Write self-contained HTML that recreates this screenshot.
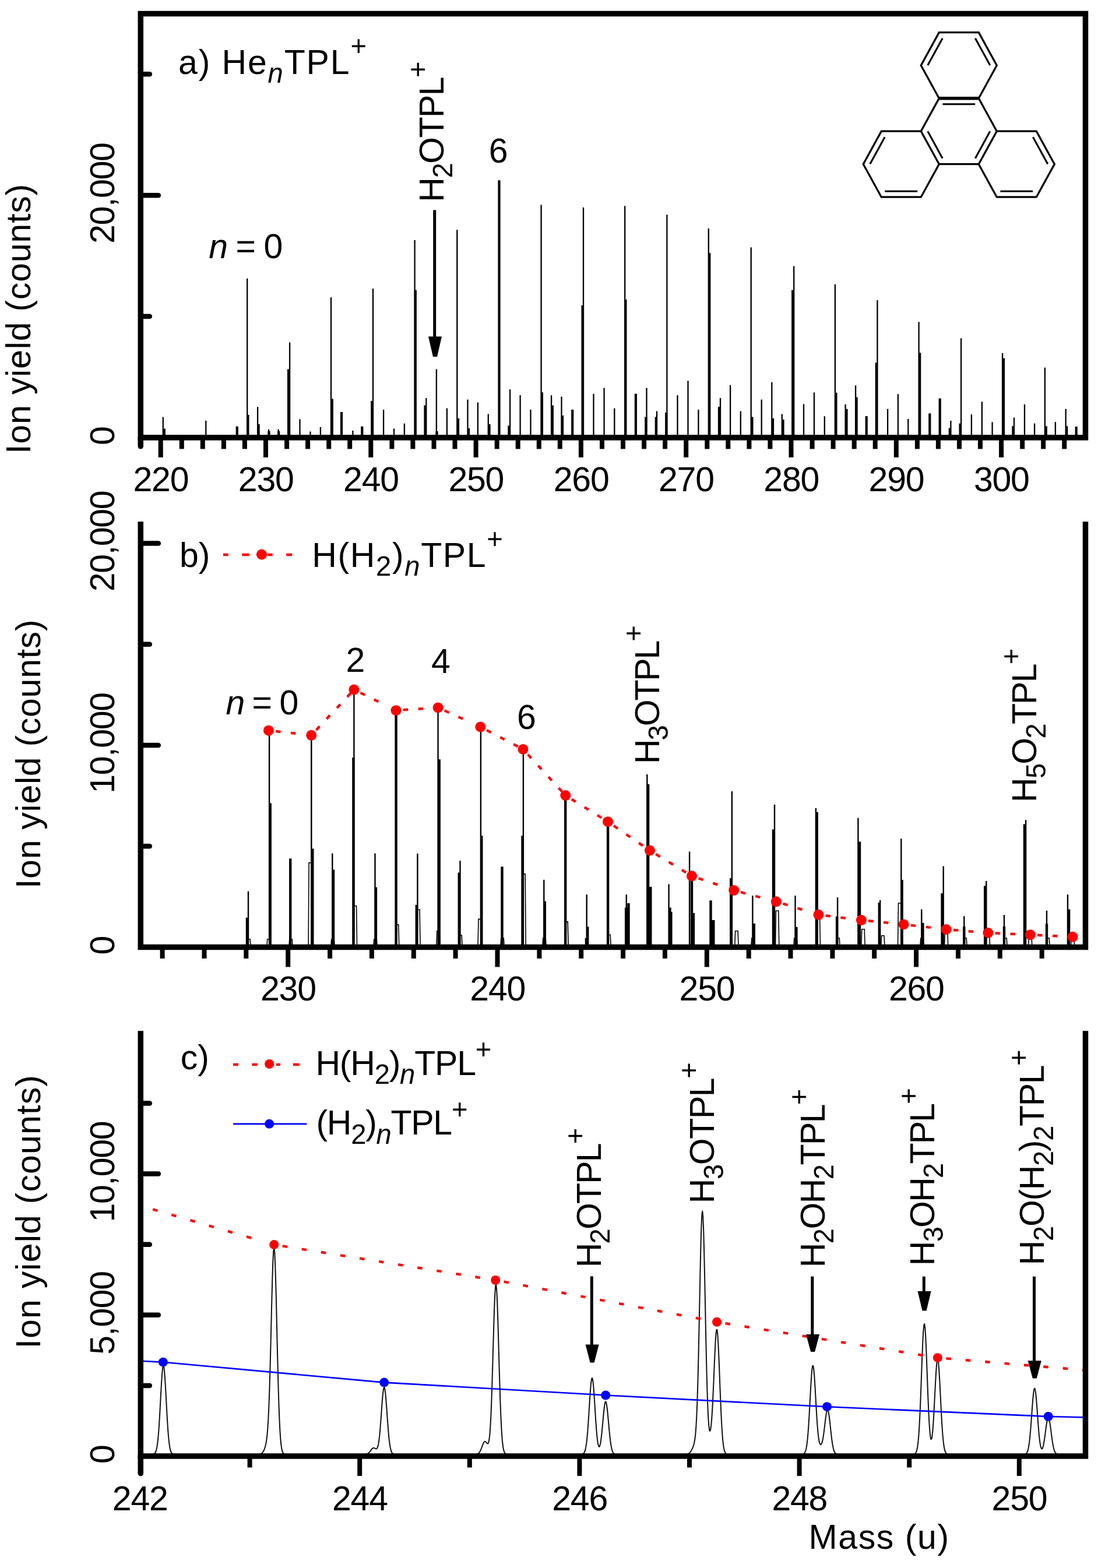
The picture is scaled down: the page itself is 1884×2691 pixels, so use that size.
<!DOCTYPE html>
<html><head><meta charset="utf-8"><title>Figure</title>
<style>html,body{margin:0;padding:0;background:#fff;overflow:hidden}svg{display:block}</style>
</head><body>
<svg width="1884" height="2691" viewBox="0 0 1884 2691">
<rect width="1884" height="2691" fill="#fff"/>
<defs><clipPath id="cc"><rect x="241.3" y="1760" width="1621.2" height="740"/></clipPath></defs>
<g font-family="Liberation Sans, Arial, sans-serif" fill="#000">
<g stroke="#000" fill="none">
<line x1="279.8" y1="751" x2="279.8" y2="715.7" stroke-width="2.3"/>
<line x1="281.8" y1="751" x2="281.8" y2="735.6" stroke-width="4.2"/>
<line x1="353.3" y1="751" x2="353.3" y2="721.9" stroke-width="2.3"/>
<line x1="406.3" y1="751" x2="406.3" y2="731.9" stroke-width="2.3"/>
<line x1="406.8" y1="751" x2="406.8" y2="731.9" stroke-width="4.2"/>
<line x1="424.2" y1="751" x2="424.2" y2="478" stroke-width="2.3"/>
<line x1="425.4" y1="751" x2="425.4" y2="712" stroke-width="4.2"/>
<line x1="442.1" y1="751" x2="442.1" y2="698.3" stroke-width="2.3"/>
<line x1="443.6" y1="751" x2="443.6" y2="728" stroke-width="4.2"/>
<line x1="461" y1="751" x2="461" y2="736.8" stroke-width="2.3"/>
<line x1="461.5" y1="751" x2="461.5" y2="740" stroke-width="4.2"/>
<line x1="477.7" y1="751" x2="477.7" y2="736.8" stroke-width="2.3"/>
<line x1="478.2" y1="751" x2="478.2" y2="740" stroke-width="4.2"/>
<line x1="497.1" y1="751" x2="497.1" y2="587.5" stroke-width="2.3"/>
<line x1="495.1" y1="751" x2="495.1" y2="633.5" stroke-width="4.2"/>
<line x1="514.5" y1="751" x2="514.5" y2="719.4" stroke-width="2.3"/>
<line x1="532.5" y1="751" x2="532.5" y2="740.6" stroke-width="2.3"/>
<line x1="549.9" y1="751" x2="549.9" y2="733" stroke-width="2.3"/>
<line x1="568" y1="751" x2="568" y2="510.3" stroke-width="2.3"/>
<line x1="569.8" y1="751" x2="569.8" y2="684.6" stroke-width="4.2"/>
<line x1="586" y1="751" x2="586" y2="707" stroke-width="2.3"/>
<line x1="586" y1="751" x2="586" y2="707" stroke-width="4.2"/>
<line x1="605.4" y1="751" x2="605.4" y2="739" stroke-width="2.3"/>
<line x1="621.3" y1="751" x2="621.3" y2="731.9" stroke-width="2.3"/>
<line x1="621.3" y1="751" x2="621.3" y2="731.9" stroke-width="4.2"/>
<line x1="640" y1="751" x2="640" y2="495.3" stroke-width="2.3"/>
<line x1="638.3" y1="751" x2="638.3" y2="688" stroke-width="4.2"/>
<line x1="658.1" y1="751" x2="658.1" y2="703.1" stroke-width="2.3"/>
<line x1="676" y1="751" x2="676" y2="735.5" stroke-width="2.3"/>
<line x1="693.9" y1="751" x2="693.9" y2="726.8" stroke-width="2.3"/>
<line x1="711.6" y1="751" x2="711.6" y2="411.9" stroke-width="2.3"/>
<line x1="712.8" y1="751" x2="712.8" y2="497.8" stroke-width="4.2"/>
<line x1="731.3" y1="751" x2="731.3" y2="683.2" stroke-width="2.3"/>
<line x1="729.5" y1="751" x2="729.5" y2="695.7" stroke-width="4.2"/>
<line x1="748.9" y1="751" x2="748.9" y2="633.5" stroke-width="2.3"/>
<line x1="749.5" y1="751" x2="749.5" y2="740" stroke-width="4.2"/>
<line x1="766.9" y1="751" x2="766.9" y2="700.7" stroke-width="2.3"/>
<line x1="784.3" y1="751" x2="784.3" y2="394.5" stroke-width="2.3"/>
<line x1="786" y1="751" x2="786" y2="718" stroke-width="4.2"/>
<line x1="802.5" y1="751" x2="802.5" y2="685.7" stroke-width="2.3"/>
<line x1="804" y1="751" x2="804" y2="735" stroke-width="4.2"/>
<line x1="819.9" y1="751" x2="819.9" y2="690.7" stroke-width="2.3"/>
<line x1="837.8" y1="751" x2="837.8" y2="710.6" stroke-width="2.3"/>
<line x1="839.5" y1="751" x2="839.5" y2="728" stroke-width="4.2"/>
<line x1="856.5" y1="751" x2="856.5" y2="309.4" stroke-width="2.3"/>
<line x1="856.5" y1="751" x2="856.5" y2="309.4" stroke-width="4.2"/>
<line x1="875.1" y1="751" x2="875.1" y2="668.3" stroke-width="2.3"/>
<line x1="873.4" y1="751" x2="873.4" y2="730.5" stroke-width="4.2"/>
<line x1="892.6" y1="751" x2="892.6" y2="678.3" stroke-width="2.3"/>
<line x1="910.5" y1="751" x2="910.5" y2="703.1" stroke-width="2.3"/>
<line x1="928.6" y1="751" x2="928.6" y2="351.4" stroke-width="2.3"/>
<line x1="929.9" y1="751" x2="929.9" y2="673.3" stroke-width="4.2"/>
<line x1="946.1" y1="751" x2="946.1" y2="678.3" stroke-width="2.3"/>
<line x1="947.8" y1="751" x2="947.8" y2="695.7" stroke-width="4.2"/>
<line x1="963.5" y1="751" x2="963.5" y2="680.7" stroke-width="2.3"/>
<line x1="965" y1="751" x2="965" y2="713" stroke-width="4.2"/>
<line x1="982.2" y1="751" x2="982.2" y2="703.1" stroke-width="2.3"/>
<line x1="982.2" y1="751" x2="982.2" y2="703.1" stroke-width="4.2"/>
<line x1="1001" y1="751" x2="1001" y2="355.9" stroke-width="2.3"/>
<line x1="999.6" y1="751" x2="999.6" y2="523.9" stroke-width="4.2"/>
<line x1="1018.5" y1="751" x2="1018.5" y2="675.8" stroke-width="2.3"/>
<line x1="1036.6" y1="751" x2="1036.6" y2="665.8" stroke-width="2.3"/>
<line x1="1054.3" y1="751" x2="1054.3" y2="700.7" stroke-width="2.3"/>
<line x1="1072.2" y1="751" x2="1072.2" y2="353.4" stroke-width="2.3"/>
<line x1="1073.4" y1="751" x2="1073.4" y2="514" stroke-width="4.2"/>
<line x1="1090.9" y1="751" x2="1090.9" y2="675.8" stroke-width="2.3"/>
<line x1="1090.9" y1="751" x2="1090.9" y2="675.8" stroke-width="4.2"/>
<line x1="1109.5" y1="751" x2="1109.5" y2="665.8" stroke-width="2.3"/>
<line x1="1108.3" y1="751" x2="1108.3" y2="715.6" stroke-width="4.2"/>
<line x1="1127" y1="751" x2="1127" y2="705.6" stroke-width="2.3"/>
<line x1="1125.8" y1="751" x2="1125.8" y2="715.6" stroke-width="4.2"/>
<line x1="1144.4" y1="751" x2="1144.4" y2="368.4" stroke-width="2.3"/>
<line x1="1143.2" y1="751" x2="1143.2" y2="708" stroke-width="4.2"/>
<line x1="1162.5" y1="751" x2="1162.5" y2="678.3" stroke-width="2.3"/>
<line x1="1180.5" y1="751" x2="1180.5" y2="653.4" stroke-width="2.3"/>
<line x1="1198.4" y1="751" x2="1198.4" y2="703.1" stroke-width="2.3"/>
<line x1="1215.8" y1="751" x2="1215.8" y2="392" stroke-width="2.3"/>
<line x1="1217.3" y1="751" x2="1217.3" y2="434.3" stroke-width="4.2"/>
<line x1="1236" y1="751" x2="1236" y2="683.2" stroke-width="2.3"/>
<line x1="1234" y1="751" x2="1234" y2="698.2" stroke-width="4.2"/>
<line x1="1253.1" y1="751" x2="1253.1" y2="660.8" stroke-width="2.3"/>
<line x1="1270.8" y1="751" x2="1270.8" y2="705.6" stroke-width="2.3"/>
<line x1="1288.7" y1="751" x2="1288.7" y2="424.4" stroke-width="2.3"/>
<line x1="1290.4" y1="751" x2="1290.4" y2="715.6" stroke-width="4.2"/>
<line x1="1306.7" y1="751" x2="1306.7" y2="685.7" stroke-width="2.3"/>
<line x1="1324.3" y1="751" x2="1324.3" y2="655.9" stroke-width="2.3"/>
<line x1="1326" y1="751" x2="1326" y2="718" stroke-width="4.2"/>
<line x1="1341.8" y1="751" x2="1341.8" y2="710.6" stroke-width="2.3"/>
<line x1="1343.5" y1="751" x2="1343.5" y2="720" stroke-width="4.2"/>
<line x1="1362.2" y1="751" x2="1362.2" y2="456.7" stroke-width="2.3"/>
<line x1="1360.2" y1="751" x2="1360.2" y2="497.8" stroke-width="4.2"/>
<line x1="1379" y1="751" x2="1379" y2="693.5" stroke-width="2.3"/>
<line x1="1397" y1="751" x2="1397" y2="673.5" stroke-width="2.3"/>
<line x1="1414.8" y1="751" x2="1414.8" y2="714.3" stroke-width="2.3"/>
<line x1="1432.9" y1="751" x2="1432.9" y2="488" stroke-width="2.3"/>
<line x1="1434.4" y1="751" x2="1434.4" y2="673.8" stroke-width="4.2"/>
<line x1="1450.6" y1="751" x2="1450.6" y2="694" stroke-width="2.3"/>
<line x1="1452.5" y1="751" x2="1452.5" y2="701.8" stroke-width="4.2"/>
<line x1="1468.1" y1="751" x2="1468.1" y2="661.4" stroke-width="2.3"/>
<line x1="1469.6" y1="751" x2="1469.6" y2="681.6" stroke-width="4.2"/>
<line x1="1486.7" y1="751" x2="1486.7" y2="714.3" stroke-width="2.3"/>
<line x1="1486.7" y1="751" x2="1486.7" y2="714.3" stroke-width="4.2"/>
<line x1="1505.4" y1="751" x2="1505.4" y2="515.1" stroke-width="2.3"/>
<line x1="1503.8" y1="751" x2="1503.8" y2="622.5" stroke-width="4.2"/>
<line x1="1523.1" y1="751" x2="1523.1" y2="701.8" stroke-width="2.3"/>
<line x1="1540.9" y1="751" x2="1540.9" y2="676.3" stroke-width="2.3"/>
<line x1="1558.3" y1="751" x2="1558.3" y2="718.9" stroke-width="2.3"/>
<line x1="1576.6" y1="751" x2="1576.6" y2="552.5" stroke-width="2.3"/>
<line x1="1578.2" y1="751" x2="1578.2" y2="605.4" stroke-width="4.2"/>
<line x1="1595.3" y1="751" x2="1595.3" y2="709.6" stroke-width="2.3"/>
<line x1="1595.3" y1="751" x2="1595.3" y2="709.6" stroke-width="4.2"/>
<line x1="1612.7" y1="751" x2="1612.7" y2="683.8" stroke-width="2.3"/>
<line x1="1612.7" y1="751" x2="1612.7" y2="683.8" stroke-width="4.2"/>
<line x1="1631.4" y1="751" x2="1631.4" y2="722" stroke-width="2.3"/>
<line x1="1629.8" y1="751" x2="1629.8" y2="734.5" stroke-width="4.2"/>
<line x1="1649.1" y1="751" x2="1649.1" y2="580.5" stroke-width="2.3"/>
<line x1="1647.6" y1="751" x2="1647.6" y2="726.7" stroke-width="4.2"/>
<line x1="1666.9" y1="751" x2="1666.9" y2="711.1" stroke-width="2.3"/>
<line x1="1684.9" y1="751" x2="1684.9" y2="689.4" stroke-width="2.3"/>
<line x1="1702.6" y1="751" x2="1702.6" y2="724.5" stroke-width="2.3"/>
<line x1="1720.1" y1="751" x2="1720.1" y2="606" stroke-width="2.3"/>
<line x1="1722" y1="751" x2="1722" y2="614.7" stroke-width="4.2"/>
<line x1="1740" y1="751" x2="1740" y2="716.7" stroke-width="2.3"/>
<line x1="1738.4" y1="751" x2="1738.4" y2="731.4" stroke-width="4.2"/>
<line x1="1758" y1="751" x2="1758" y2="694" stroke-width="2.3"/>
<line x1="1775.1" y1="751" x2="1775.1" y2="726.7" stroke-width="2.3"/>
<line x1="1792.9" y1="751" x2="1792.9" y2="630.9" stroke-width="2.3"/>
<line x1="1794.8" y1="751" x2="1794.8" y2="731.4" stroke-width="4.2"/>
<line x1="1810.9" y1="751" x2="1810.9" y2="724.2" stroke-width="2.3"/>
<line x1="1828.7" y1="751" x2="1828.7" y2="701.8" stroke-width="2.3"/>
<line x1="1830.2" y1="751" x2="1830.2" y2="731.4" stroke-width="4.2"/>
<line x1="1846.7" y1="751" x2="1846.7" y2="732.3" stroke-width="2.3"/>
<line x1="1846.7" y1="751" x2="1846.7" y2="732.3" stroke-width="4.2"/>
</g>
<path d="M241.3,23.5 L241.3,751 Q241.3,751 241.3,751 L1862.5,751 Q1862.5,751 1862.5,751 L1862.5,23.5 Q1862.5,23.5 1862.5,23.5 L241.3,23.5 Q241.3,23.5 241.3,23.5 Z" fill="none" stroke="#000" stroke-width="9.5" stroke-linejoin="miter" stroke-linecap="square"/>
<line x1="241.3" y1="751" x2="241.3" y2="765.8" stroke="#000" stroke-width="9.5" stroke-linecap="round"/>
<line x1="241.3" y1="751" x2="271.8" y2="751" stroke="#000" stroke-width="8.5" stroke-linecap="round"/>
<line x1="241.3" y1="335.2" x2="271.8" y2="335.2" stroke="#000" stroke-width="8.5" stroke-linecap="round"/>
<line x1="241.3" y1="543.1" x2="256.8" y2="543.1" stroke="#000" stroke-width="8.5" stroke-linecap="round"/>
<line x1="241.3" y1="127.3" x2="256.8" y2="127.3" stroke="#000" stroke-width="8.5" stroke-linecap="round"/>
<line x1="275.7" y1="751" x2="275.7" y2="785" stroke="#000" stroke-width="8" stroke-linecap="butt"/>
<line x1="456" y1="751" x2="456" y2="785" stroke="#000" stroke-width="8" stroke-linecap="butt"/>
<line x1="636.3" y1="751" x2="636.3" y2="785" stroke="#000" stroke-width="8" stroke-linecap="butt"/>
<line x1="816.6" y1="751" x2="816.6" y2="785" stroke="#000" stroke-width="8" stroke-linecap="butt"/>
<line x1="996.9" y1="751" x2="996.9" y2="785" stroke="#000" stroke-width="8" stroke-linecap="butt"/>
<line x1="1177.2" y1="751" x2="1177.2" y2="785" stroke="#000" stroke-width="8" stroke-linecap="butt"/>
<line x1="1357.5" y1="751" x2="1357.5" y2="785" stroke="#000" stroke-width="8" stroke-linecap="butt"/>
<line x1="1537.8" y1="751" x2="1537.8" y2="785" stroke="#000" stroke-width="8" stroke-linecap="butt"/>
<line x1="1718.1" y1="751" x2="1718.1" y2="785" stroke="#000" stroke-width="8" stroke-linecap="butt"/>
<line x1="311.8" y1="751" x2="311.8" y2="770.5" stroke="#000" stroke-width="8" stroke-linecap="butt"/>
<line x1="347.8" y1="751" x2="347.8" y2="770.5" stroke="#000" stroke-width="8" stroke-linecap="butt"/>
<line x1="383.9" y1="751" x2="383.9" y2="770.5" stroke="#000" stroke-width="8" stroke-linecap="butt"/>
<line x1="419.9" y1="751" x2="419.9" y2="770.5" stroke="#000" stroke-width="8" stroke-linecap="butt"/>
<line x1="492.1" y1="751" x2="492.1" y2="770.5" stroke="#000" stroke-width="8" stroke-linecap="butt"/>
<line x1="528.1" y1="751" x2="528.1" y2="770.5" stroke="#000" stroke-width="8" stroke-linecap="butt"/>
<line x1="564.2" y1="751" x2="564.2" y2="770.5" stroke="#000" stroke-width="8" stroke-linecap="butt"/>
<line x1="600.2" y1="751" x2="600.2" y2="770.5" stroke="#000" stroke-width="8" stroke-linecap="butt"/>
<line x1="672.4" y1="751" x2="672.4" y2="770.5" stroke="#000" stroke-width="8" stroke-linecap="butt"/>
<line x1="708.4" y1="751" x2="708.4" y2="770.5" stroke="#000" stroke-width="8" stroke-linecap="butt"/>
<line x1="744.5" y1="751" x2="744.5" y2="770.5" stroke="#000" stroke-width="8" stroke-linecap="butt"/>
<line x1="780.5" y1="751" x2="780.5" y2="770.5" stroke="#000" stroke-width="8" stroke-linecap="butt"/>
<line x1="852.7" y1="751" x2="852.7" y2="770.5" stroke="#000" stroke-width="8" stroke-linecap="butt"/>
<line x1="888.7" y1="751" x2="888.7" y2="770.5" stroke="#000" stroke-width="8" stroke-linecap="butt"/>
<line x1="924.8" y1="751" x2="924.8" y2="770.5" stroke="#000" stroke-width="8" stroke-linecap="butt"/>
<line x1="960.8" y1="751" x2="960.8" y2="770.5" stroke="#000" stroke-width="8" stroke-linecap="butt"/>
<line x1="1033" y1="751" x2="1033" y2="770.5" stroke="#000" stroke-width="8" stroke-linecap="butt"/>
<line x1="1069" y1="751" x2="1069" y2="770.5" stroke="#000" stroke-width="8" stroke-linecap="butt"/>
<line x1="1105.1" y1="751" x2="1105.1" y2="770.5" stroke="#000" stroke-width="8" stroke-linecap="butt"/>
<line x1="1141.1" y1="751" x2="1141.1" y2="770.5" stroke="#000" stroke-width="8" stroke-linecap="butt"/>
<line x1="1213.3" y1="751" x2="1213.3" y2="770.5" stroke="#000" stroke-width="8" stroke-linecap="butt"/>
<line x1="1249.3" y1="751" x2="1249.3" y2="770.5" stroke="#000" stroke-width="8" stroke-linecap="butt"/>
<line x1="1285.4" y1="751" x2="1285.4" y2="770.5" stroke="#000" stroke-width="8" stroke-linecap="butt"/>
<line x1="1321.4" y1="751" x2="1321.4" y2="770.5" stroke="#000" stroke-width="8" stroke-linecap="butt"/>
<line x1="1393.6" y1="751" x2="1393.6" y2="770.5" stroke="#000" stroke-width="8" stroke-linecap="butt"/>
<line x1="1429.6" y1="751" x2="1429.6" y2="770.5" stroke="#000" stroke-width="8" stroke-linecap="butt"/>
<line x1="1465.7" y1="751" x2="1465.7" y2="770.5" stroke="#000" stroke-width="8" stroke-linecap="butt"/>
<line x1="1501.7" y1="751" x2="1501.7" y2="770.5" stroke="#000" stroke-width="8" stroke-linecap="butt"/>
<line x1="1573.9" y1="751" x2="1573.9" y2="770.5" stroke="#000" stroke-width="8" stroke-linecap="butt"/>
<line x1="1609.9" y1="751" x2="1609.9" y2="770.5" stroke="#000" stroke-width="8" stroke-linecap="butt"/>
<line x1="1646" y1="751" x2="1646" y2="770.5" stroke="#000" stroke-width="8" stroke-linecap="butt"/>
<line x1="1682" y1="751" x2="1682" y2="770.5" stroke="#000" stroke-width="8" stroke-linecap="butt"/>
<line x1="1754.2" y1="751" x2="1754.2" y2="770.5" stroke="#000" stroke-width="8" stroke-linecap="butt"/>
<line x1="1790.2" y1="751" x2="1790.2" y2="770.5" stroke="#000" stroke-width="8" stroke-linecap="butt"/>
<line x1="1826.3" y1="751" x2="1826.3" y2="770.5" stroke="#000" stroke-width="8" stroke-linecap="butt"/>
<text x="275.9" y="843.1" text-anchor="middle" font-size="59" letter-spacing="-1.20"><tspan>220</tspan></text>
<text x="456.2" y="843.1" text-anchor="middle" font-size="59" letter-spacing="-1.20"><tspan>230</tspan></text>
<text x="636.5" y="843.1" text-anchor="middle" font-size="59" letter-spacing="-1.20"><tspan>240</tspan></text>
<text x="816.8" y="843.1" text-anchor="middle" font-size="59" letter-spacing="-1.20"><tspan>250</tspan></text>
<text x="997.1" y="843.1" text-anchor="middle" font-size="59" letter-spacing="-1.20"><tspan>260</tspan></text>
<text x="1177.4" y="843.1" text-anchor="middle" font-size="59" letter-spacing="-1.20"><tspan>270</tspan></text>
<text x="1357.7" y="843.1" text-anchor="middle" font-size="59" letter-spacing="-1.20"><tspan>280</tspan></text>
<text x="1538" y="843.1" text-anchor="middle" font-size="59" letter-spacing="-1.20"><tspan>290</tspan></text>
<text x="1718.3" y="843.1" text-anchor="middle" font-size="59" letter-spacing="-1.20"><tspan>300</tspan></text>
<text transform="translate(195.5,747.5) rotate(-90)" text-anchor="middle" font-size="59"><tspan>0</tspan></text>
<text transform="translate(195.5,331.7) rotate(-90)" text-anchor="middle" font-size="59" letter-spacing="-1.30"><tspan>20,000</tspan></text>
<text transform="translate(52.3,778.9) rotate(-90)" font-size="59" letter-spacing="0.81"><tspan>Ion yield (counts)</tspan></text>
<text x="306.1" y="126.7" font-size="59" letter-spacing="1.84"><tspan>a) He</tspan><tspan dy="15.3" font-size="47.2" font-style="italic">n</tspan><tspan dy="-15.3">TPL</tspan><tspan dy="-32.2" font-size="47.2">+</tspan></text>
<text x="358.2" y="443.3" font-size="59" letter-spacing="-1.45"><tspan font-style="italic">n</tspan><tspan> = 0</tspan></text>
<text x="855.2" y="278.5" text-anchor="middle" font-size="59"><tspan>6</tspan></text>
<text transform="translate(760.8,346.7) rotate(-90)" font-size="59" letter-spacing="-1.53"><tspan>H</tspan><tspan dy="15.3" font-size="47.2">2</tspan><tspan dy="-15.3">OTPL</tspan><tspan dy="-27.7" font-size="47.2">+</tspan></text>
<line x1="745.7" y1="360.6" x2="745.7" y2="581.4" stroke="#000" stroke-width="5"/>
<path d="M735,577.4 L758,577.4 L750,612.3 L743,612.3 Z" fill="#000"/>
<path d="M1611.3,168.7 L1679.3,168.7 L1710.3,225.2 L1679.3,281.7 L1611.3,281.7 L1580.3,225.2 Z M1611.3,55.7 L1679.3,55.7 L1710.3,112.2 L1679.3,168.7 L1611.3,168.7 L1580.3,112.2 Z M1512.3,225.2 L1580.3,225.2 L1611.3,281.7 L1580.3,338.2 L1512.3,338.2 L1481.3,281.7 Z M1710.3,225.2 L1778.3,225.2 L1809.3,281.7 L1778.3,338.2 L1710.3,338.2 L1679.3,281.7 Z" fill="none" stroke="#000" stroke-width="3.3" stroke-linejoin="miter"/>
<line x1="1611.3" y1="168.7" x2="1679.3" y2="168.7" stroke="#000" stroke-width="5.5"/>
<path d="M1617.4,178.7 L1673.2,178.7 M1698.8,225.3 L1673.4,271.7 M1617.2,271.7 L1591.8,225.3 M1673.4,65.7 L1698.8,112.1 M1591.8,112.1 L1617.2,65.7 M1492.8,281.6 L1518.2,235.2 M1574.2,328.2 L1518.4,328.2 M1772.4,235.2 L1797.8,281.6 M1772.2,328.2 L1716.4,328.2" fill="none" stroke="#000" stroke-width="3.1"/>
<g stroke="#000" fill="none">
<line x1="426" y1="1625.5" x2="426" y2="1529.7" stroke-width="2.4"/>
<line x1="424" y1="1625.5" x2="424" y2="1574.8" stroke-width="4.4"/>
<polyline points="423.8,1625.5 424.8,1612 429.2,1612 430.2,1625.5" stroke-width="1.6"/>
<line x1="462.1" y1="1625.5" x2="462.1" y2="1262" stroke-width="2.4"/>
<line x1="463.7" y1="1625.5" x2="463.7" y2="1378.4" stroke-width="4.4"/>
<polyline points="457.8,1625.5 458.8,1612 463.2,1612 464.2,1625.5" stroke-width="1.6"/>
<line x1="498.2" y1="1625.5" x2="498.2" y2="1473.6" stroke-width="2.4"/>
<line x1="498.2" y1="1625.5" x2="498.2" y2="1473.6" stroke-width="4.4"/>
<polyline points="495.8,1625.5 496.8,1612 501.2,1612 502.2,1625.5" stroke-width="1.6"/>
<line x1="534.3" y1="1625.5" x2="534.3" y2="1270" stroke-width="2.4"/>
<line x1="536.3" y1="1625.5" x2="536.3" y2="1456.5" stroke-width="4.4"/>
<polyline points="529.1,1625.5 530.1,1480.6 534.5,1480.6 535.5,1625.5" stroke-width="1.6"/>
<line x1="570.3" y1="1625.5" x2="570.3" y2="1464.6" stroke-width="2.4"/>
<line x1="572" y1="1625.5" x2="572" y2="1492.6" stroke-width="4.4"/>
<polyline points="567.8,1625.5 568.8,1612 573.2,1612 574.2,1625.5" stroke-width="1.6"/>
<line x1="607.4" y1="1625.5" x2="607.4" y2="1192" stroke-width="2.4"/>
<line x1="606.4" y1="1625.5" x2="606.4" y2="1300.2" stroke-width="4.4"/>
<polyline points="606.2,1625.5 607.2,1554.7 611.6,1554.7 612.6,1625.5" stroke-width="1.6"/>
<line x1="643.5" y1="1625.5" x2="643.5" y2="1464.6" stroke-width="2.4"/>
<line x1="644.9" y1="1625.5" x2="644.9" y2="1522.7" stroke-width="4.4"/>
<polyline points="640.8,1625.5 641.8,1612 646.2,1612 647.2,1625.5" stroke-width="1.6"/>
<line x1="679.6" y1="1625.5" x2="679.6" y2="1227" stroke-width="2.4"/>
<line x1="679.6" y1="1625.5" x2="679.6" y2="1227" stroke-width="4.4"/>
<polyline points="678.4,1625.5 679.4,1586.8 683.8,1586.8 684.8,1625.5" stroke-width="1.6"/>
<line x1="716.4" y1="1625.5" x2="716.4" y2="1464.9" stroke-width="2.4"/>
<line x1="714.8" y1="1625.5" x2="714.8" y2="1552.9" stroke-width="4.4"/>
<polyline points="714.7,1625.5 715.7,1561 720.1,1561 721.1,1625.5" stroke-width="1.6"/>
<line x1="751.6" y1="1625.5" x2="751.6" y2="1222" stroke-width="2.4"/>
<line x1="753.7" y1="1625.5" x2="753.7" y2="1303.2" stroke-width="4.4"/>
<polyline points="748.8,1625.5 749.8,1597.9 754.2,1597.9 755.2,1625.5" stroke-width="1.6"/>
<line x1="789.5" y1="1625.5" x2="789.5" y2="1477.2" stroke-width="2.4"/>
<line x1="787.8" y1="1625.5" x2="787.8" y2="1497.6" stroke-width="4.4"/>
<polyline points="786.8,1625.5 787.8,1605 792.2,1605 793.2,1625.5" stroke-width="1.6"/>
<line x1="824.9" y1="1625.5" x2="824.9" y2="1256" stroke-width="2.4"/>
<line x1="826.3" y1="1625.5" x2="826.3" y2="1434.2" stroke-width="4.4"/>
<polyline points="820,1625.5 821,1577.4 825.4,1577.4 826.4,1625.5" stroke-width="1.6"/>
<line x1="861.5" y1="1625.5" x2="861.5" y2="1487.4" stroke-width="2.4"/>
<line x1="861.5" y1="1625.5" x2="861.5" y2="1487.4" stroke-width="4.4"/>
<polyline points="858.8,1625.5 859.8,1610 864.2,1610 865.2,1625.5" stroke-width="1.6"/>
<line x1="897.9" y1="1625.5" x2="897.9" y2="1294" stroke-width="2.4"/>
<line x1="896.5" y1="1625.5" x2="896.5" y2="1434.2" stroke-width="4.4"/>
<polyline points="895.8,1625.5 896.8,1499.7 901.2,1499.7 902.2,1625.5" stroke-width="1.6"/>
<line x1="933.3" y1="1625.5" x2="933.3" y2="1509.9" stroke-width="2.4"/>
<line x1="934.8" y1="1625.5" x2="934.8" y2="1546.7" stroke-width="4.4"/>
<polyline points="930.8,1625.5 931.8,1610 936.2,1610 937.2,1625.5" stroke-width="1.6"/>
<line x1="970.2" y1="1625.5" x2="970.2" y2="1373" stroke-width="2.4"/>
<line x1="970.2" y1="1625.5" x2="970.2" y2="1373" stroke-width="4.4"/>
<polyline points="968.8,1625.5 969.8,1581.9 974.2,1581.9 975.2,1625.5" stroke-width="1.6"/>
<line x1="1006.7" y1="1625.5" x2="1006.7" y2="1535.2" stroke-width="2.4"/>
<line x1="1008.2" y1="1625.5" x2="1008.2" y2="1590.3" stroke-width="4.4"/>
<line x1="1006" y1="1625.5" x2="1006" y2="1610" stroke-width="4.5"/>
<line x1="1043.1" y1="1625.5" x2="1043.1" y2="1418" stroke-width="2.4"/>
<line x1="1043.1" y1="1625.5" x2="1043.1" y2="1418" stroke-width="4.4"/>
<polyline points="1041.8,1625.5 1042.8,1604.3 1047.2,1604.3 1048.2,1625.5" stroke-width="1.6"/>
<line x1="1074.8" y1="1625.5" x2="1074.8" y2="1535.2" stroke-width="2.4"/>
<line x1="1078.5" y1="1625.5" x2="1078.5" y2="1550.1" stroke-width="4.4"/>
<line x1="1075.5" y1="1625.5" x2="1075.5" y2="1557.6" stroke-width="7.0"/>
<line x1="1110.3" y1="1625.5" x2="1110.3" y2="1328.9" stroke-width="2.4"/>
<line x1="1112.1" y1="1625.5" x2="1112.1" y2="1345.7" stroke-width="4.4"/>
<line x1="1114" y1="1625.5" x2="1114" y2="1522" stroke-width="9.0"/>
<line x1="1147.6" y1="1625.5" x2="1147.6" y2="1517.5" stroke-width="2.4"/>
<line x1="1149.5" y1="1625.5" x2="1149.5" y2="1557.6" stroke-width="4.4"/>
<line x1="1150.3" y1="1625.5" x2="1150.3" y2="1565" stroke-width="6.5"/>
<line x1="1183.1" y1="1625.5" x2="1183.1" y2="1461.5" stroke-width="2.4"/>
<line x1="1187" y1="1625.5" x2="1187" y2="1511" stroke-width="4.4"/>
<line x1="1188.6" y1="1625.5" x2="1188.6" y2="1566.9" stroke-width="7.0"/>
<line x1="1219.5" y1="1625.5" x2="1219.5" y2="1545.5" stroke-width="2.4"/>
<line x1="1219.5" y1="1625.5" x2="1219.5" y2="1545.5" stroke-width="4.4"/>
<line x1="1223" y1="1625.5" x2="1223" y2="1579" stroke-width="7.0"/>
<line x1="1255.9" y1="1625.5" x2="1255.9" y2="1357.9" stroke-width="2.4"/>
<line x1="1254.3" y1="1625.5" x2="1254.3" y2="1507.2" stroke-width="4.4"/>
<polyline points="1260.7,1625.5 1261.7,1597.8 1266.1,1597.8 1267.1,1625.5" stroke-width="1.6"/>
<line x1="1291.4" y1="1625.5" x2="1291.4" y2="1537.1" stroke-width="2.4"/>
<line x1="1293.8" y1="1625.5" x2="1293.8" y2="1584.9" stroke-width="4.4"/>
<polyline points="1288.8,1625.5 1289.8,1610 1294.2,1610 1295.2,1625.5" stroke-width="1.6"/>
<line x1="1329" y1="1625.5" x2="1329" y2="1380.8" stroke-width="2.4"/>
<line x1="1327" y1="1625.5" x2="1327" y2="1423.6" stroke-width="4.4"/>
<polyline points="1330.4,1625.5 1331.4,1563 1335.8,1563 1336.8,1625.5" stroke-width="1.6"/>
<line x1="1364.5" y1="1625.5" x2="1364.5" y2="1537.1" stroke-width="2.4"/>
<line x1="1366.4" y1="1625.5" x2="1366.4" y2="1590.9" stroke-width="4.4"/>
<polyline points="1361.8,1625.5 1362.8,1610 1367.2,1610 1368.2,1625.5" stroke-width="1.6"/>
<line x1="1399.9" y1="1625.5" x2="1399.9" y2="1386.8" stroke-width="2.4"/>
<line x1="1401.7" y1="1625.5" x2="1401.7" y2="1393.7" stroke-width="4.4"/>
<polyline points="1401.1,1625.5 1402.1,1572 1406.5,1572 1407.5,1625.5" stroke-width="1.6"/>
<line x1="1437.1" y1="1625.5" x2="1437.1" y2="1540.1" stroke-width="2.4"/>
<line x1="1436.1" y1="1625.5" x2="1436.1" y2="1572.9" stroke-width="4.4"/>
<polyline points="1434.8,1625.5 1435.8,1610 1440.2,1610 1441.2,1625.5" stroke-width="1.6"/>
<line x1="1472.4" y1="1625.5" x2="1472.4" y2="1403.7" stroke-width="2.4"/>
<line x1="1475" y1="1625.5" x2="1475" y2="1444.5" stroke-width="4.4"/>
<polyline points="1477.8,1625.5 1478.8,1594.8 1483.2,1594.8 1484.2,1625.5" stroke-width="1.6"/>
<line x1="1510.2" y1="1625.5" x2="1510.2" y2="1545" stroke-width="2.4"/>
<line x1="1508.8" y1="1625.5" x2="1508.8" y2="1549" stroke-width="4.4"/>
<polyline points="1511.6,1625.5 1512.6,1605.8 1517,1605.8 1518,1625.5" stroke-width="1.6"/>
<line x1="1546.3" y1="1625.5" x2="1546.3" y2="1439.3" stroke-width="2.4"/>
<line x1="1547.6" y1="1625.5" x2="1547.6" y2="1510" stroke-width="4.4"/>
<polyline points="1540.5,1625.5 1541.5,1550 1545.9,1550 1546.9,1625.5" stroke-width="1.6"/>
<line x1="1581.3" y1="1625.5" x2="1581.3" y2="1560.6" stroke-width="2.4"/>
<line x1="1583.4" y1="1625.5" x2="1583.4" y2="1583.9" stroke-width="4.4"/>
<polyline points="1578.8,1625.5 1579.8,1610 1584.2,1610 1585.2,1625.5" stroke-width="1.6"/>
<line x1="1618.7" y1="1625.5" x2="1618.7" y2="1486.6" stroke-width="2.4"/>
<line x1="1616.6" y1="1625.5" x2="1616.6" y2="1533.1" stroke-width="4.4"/>
<polyline points="1620.4,1625.5 1621.4,1596 1625.8,1596 1626.8,1625.5" stroke-width="1.6"/>
<line x1="1654.3" y1="1625.5" x2="1654.3" y2="1572.3" stroke-width="2.4"/>
<line x1="1654.3" y1="1625.5" x2="1654.3" y2="1590" stroke-width="4.4"/>
<polyline points="1652.8,1625.5 1653.8,1610 1658.2,1610 1659.2,1625.5" stroke-width="1.6"/>
<line x1="1692.3" y1="1625.5" x2="1692.3" y2="1512" stroke-width="2.4"/>
<line x1="1690.2" y1="1625.5" x2="1690.2" y2="1520.4" stroke-width="4.4"/>
<polyline points="1692.2,1625.5 1693.2,1601 1697.6,1601 1698.6,1625.5" stroke-width="1.6"/>
<line x1="1723" y1="1625.5" x2="1723" y2="1570.2" stroke-width="2.4"/>
<line x1="1723" y1="1625.5" x2="1723" y2="1590" stroke-width="4.4"/>
<polyline points="1721.8,1625.5 1722.8,1610 1727.2,1610 1728.2,1625.5" stroke-width="1.6"/>
<line x1="1760.1" y1="1625.5" x2="1760.1" y2="1407.2" stroke-width="2.4"/>
<line x1="1758" y1="1625.5" x2="1758" y2="1414.6" stroke-width="4.4"/>
<polyline points="1764.5,1625.5 1765.5,1605 1769.9,1605 1770.9,1625.5" stroke-width="1.6"/>
<line x1="1796" y1="1625.5" x2="1796" y2="1562.8" stroke-width="2.4"/>
<line x1="1796" y1="1625.5" x2="1796" y2="1585" stroke-width="4.4"/>
<polyline points="1794.8,1625.5 1795.8,1610 1800.2,1610 1801.2,1625.5" stroke-width="1.6"/>
<line x1="1832" y1="1625.5" x2="1832" y2="1535.2" stroke-width="2.4"/>
<line x1="1834.1" y1="1625.5" x2="1834.1" y2="1560.6" stroke-width="4.4"/>
<polyline points="1837.3,1625.5 1838.3,1608 1842.7,1608 1843.7,1625.5" stroke-width="1.6"/>
</g>
<path d="M473.1,1255 L481.5,1256 M498.9,1257.9 L507.4,1258.8 M542.6,1252.9 L548.4,1246.6 M560.3,1233.9 L566.1,1227.6 M578.1,1214.9 L583.9,1208.7 M595.8,1195.9 L601.6,1189.7 M618.4,1188.9 L626,1192.7 M641.7,1200.5 L649.3,1204.2 M691.7,1218.4 L700.2,1217.8 M717.7,1216.7 L726.1,1216.1 M762.7,1219.5 L770.5,1223 M786.4,1230.2 L794.1,1233.8 M835.1,1253.2 L842.7,1257.1 M858.2,1265.3 L865.7,1269.2 M881.2,1277.3 L888.7,1281.3 M905.8,1294.9 L911.5,1301.2 M923.4,1314.1 L929.1,1320.3 M941,1333.2 L946.7,1339.5 M958.6,1352.3 L964.3,1358.6 M980.7,1371.6 L987.9,1376 M1002.8,1385.3 L1010,1389.7 M1024.9,1399 L1032.1,1403.5 M1053.1,1417.1 L1060.1,1422 M1074.5,1431.9 L1081.5,1436.7 M1096,1446.6 L1103,1451.4 M1125.4,1465.9 L1132.6,1470.4 M1147.6,1479.4 L1154.9,1483.8 M1169.8,1492.9 L1177.1,1497.3 M1198.6,1507.3 L1206.6,1510 M1223.2,1515.6 L1231.3,1518.4 M1271,1531.1 L1279.2,1533.3 M1296.2,1537.8 L1304.4,1540 M1343.5,1550.9 L1351.6,1553.4 M1368.3,1558.6 L1376.5,1561.1 M1416.6,1571.3 L1425,1572.4 M1442.3,1574.6 L1450.8,1575.7 M1490.1,1580.3 L1498.5,1581.2 M1516,1583 L1524.4,1583.8 M1562.8,1587.9 L1571.2,1588.9 M1588.6,1590.9 L1597,1591.9 M1635.8,1596 L1644.3,1596.7 M1661.7,1598.2 L1670.2,1598.9 M1707.6,1601.5 L1716.1,1601.9 M1733.6,1602.7 L1742.1,1603.1 M1780,1604.8 L1788.5,1605.2 M1806,1606.1 L1814.5,1606.5" fill="none" stroke="#f00" stroke-width="4.4"/>
<circle cx="460.9" cy="1253.7" r="9" fill="#f00"/>
<circle cx="534.2" cy="1261.8" r="9" fill="#f00"/>
<circle cx="607.4" cy="1183.5" r="9" fill="#f00"/>
<circle cx="679.5" cy="1219.2" r="9" fill="#f00"/>
<circle cx="751.6" cy="1214.4" r="9" fill="#f00"/>
<circle cx="824.3" cy="1247.5" r="9" fill="#f00"/>
<circle cx="897.5" cy="1285.9" r="9" fill="#f00"/>
<circle cx="970.3" cy="1365.1" r="9" fill="#f00"/>
<circle cx="1043" cy="1410.2" r="9" fill="#f00"/>
<circle cx="1114.9" cy="1459.6" r="9" fill="#f00"/>
<circle cx="1187" cy="1503.3" r="9" fill="#f00"/>
<circle cx="1259.2" cy="1527.9" r="9" fill="#f00"/>
<circle cx="1331.8" cy="1547.3" r="9" fill="#f00"/>
<circle cx="1404.4" cy="1569.8" r="9" fill="#f00"/>
<circle cx="1477.9" cy="1579.1" r="9" fill="#f00"/>
<circle cx="1550.6" cy="1586.5" r="9" fill="#f00"/>
<circle cx="1623.6" cy="1595" r="9" fill="#f00"/>
<circle cx="1695.4" cy="1601" r="9" fill="#f00"/>
<circle cx="1767.8" cy="1604.2" r="9" fill="#f00"/>
<circle cx="1840.6" cy="1607.8" r="9" fill="#f00"/>
<path d="M241.3,900 L241.3,1625.5 Q241.3,1625.5 241.3,1625.5 L1862.5,1625.5 Q1862.5,1625.5 1862.5,1625.5 L1862.5,900" fill="none" stroke="#000" stroke-width="9.5" stroke-linejoin="miter" stroke-linecap="square"/>
<line x1="241.3" y1="1279" x2="271.8" y2="1279" stroke="#000" stroke-width="8.5" stroke-linecap="round"/>
<line x1="241.3" y1="932.5" x2="271.8" y2="932.5" stroke="#000" stroke-width="8.5" stroke-linecap="round"/>
<line x1="241.3" y1="1452.2" x2="256.8" y2="1452.2" stroke="#000" stroke-width="8.5" stroke-linecap="round"/>
<line x1="241.3" y1="1105.8" x2="256.8" y2="1105.8" stroke="#000" stroke-width="8.5" stroke-linecap="round"/>
<line x1="494.2" y1="1625.5" x2="494.2" y2="1659.5" stroke="#000" stroke-width="8" stroke-linecap="butt"/>
<line x1="853.5" y1="1625.5" x2="853.5" y2="1659.5" stroke="#000" stroke-width="8" stroke-linecap="butt"/>
<line x1="1212.8" y1="1625.5" x2="1212.8" y2="1659.5" stroke="#000" stroke-width="8" stroke-linecap="butt"/>
<line x1="1572.1" y1="1625.5" x2="1572.1" y2="1659.5" stroke="#000" stroke-width="8" stroke-linecap="butt"/>
<line x1="278.6" y1="1625.5" x2="278.6" y2="1645" stroke="#000" stroke-width="8" stroke-linecap="butt"/>
<line x1="350.5" y1="1625.5" x2="350.5" y2="1645" stroke="#000" stroke-width="8" stroke-linecap="butt"/>
<line x1="422.3" y1="1625.5" x2="422.3" y2="1645" stroke="#000" stroke-width="8" stroke-linecap="butt"/>
<line x1="566.1" y1="1625.5" x2="566.1" y2="1645" stroke="#000" stroke-width="8" stroke-linecap="butt"/>
<line x1="637.9" y1="1625.5" x2="637.9" y2="1645" stroke="#000" stroke-width="8" stroke-linecap="butt"/>
<line x1="709.8" y1="1625.5" x2="709.8" y2="1645" stroke="#000" stroke-width="8" stroke-linecap="butt"/>
<line x1="781.6" y1="1625.5" x2="781.6" y2="1645" stroke="#000" stroke-width="8" stroke-linecap="butt"/>
<line x1="925.4" y1="1625.5" x2="925.4" y2="1645" stroke="#000" stroke-width="8" stroke-linecap="butt"/>
<line x1="997.2" y1="1625.5" x2="997.2" y2="1645" stroke="#000" stroke-width="8" stroke-linecap="butt"/>
<line x1="1069.1" y1="1625.5" x2="1069.1" y2="1645" stroke="#000" stroke-width="8" stroke-linecap="butt"/>
<line x1="1140.9" y1="1625.5" x2="1140.9" y2="1645" stroke="#000" stroke-width="8" stroke-linecap="butt"/>
<line x1="1284.7" y1="1625.5" x2="1284.7" y2="1645" stroke="#000" stroke-width="8" stroke-linecap="butt"/>
<line x1="1356.5" y1="1625.5" x2="1356.5" y2="1645" stroke="#000" stroke-width="8" stroke-linecap="butt"/>
<line x1="1428.4" y1="1625.5" x2="1428.4" y2="1645" stroke="#000" stroke-width="8" stroke-linecap="butt"/>
<line x1="1500.2" y1="1625.5" x2="1500.2" y2="1645" stroke="#000" stroke-width="8" stroke-linecap="butt"/>
<line x1="1644" y1="1625.5" x2="1644" y2="1645" stroke="#000" stroke-width="8" stroke-linecap="butt"/>
<line x1="1715.8" y1="1625.5" x2="1715.8" y2="1645" stroke="#000" stroke-width="8" stroke-linecap="butt"/>
<line x1="1787.7" y1="1625.5" x2="1787.7" y2="1645" stroke="#000" stroke-width="8" stroke-linecap="butt"/>
<text x="494.4" y="1717" text-anchor="middle" font-size="59" letter-spacing="-1.20"><tspan>230</tspan></text>
<text x="853.7" y="1717" text-anchor="middle" font-size="59" letter-spacing="-1.20"><tspan>240</tspan></text>
<text x="1213" y="1717" text-anchor="middle" font-size="59" letter-spacing="-1.20"><tspan>250</tspan></text>
<text x="1572.3" y="1717" text-anchor="middle" font-size="59" letter-spacing="-1.20"><tspan>260</tspan></text>
<text transform="translate(195.5,1622) rotate(-90)" text-anchor="middle" font-size="59"><tspan>0</tspan></text>
<text transform="translate(195.5,1275.5) rotate(-90)" text-anchor="middle" font-size="59" letter-spacing="-1.30"><tspan>10,000</tspan></text>
<text transform="translate(195.5,929) rotate(-90)" text-anchor="middle" font-size="59" letter-spacing="-1.30"><tspan>20,000</tspan></text>
<text transform="translate(69.2,1525) rotate(-90)" font-size="59" letter-spacing="0.73"><tspan>Ion yield (counts)</tspan></text>
<text x="308" y="973.3" font-size="59"><tspan>b)</tspan></text>
<path d="M383,952 L391.7,952 M415.3,952 L427.8,952 M440,952 L458,952 M458.9,952 L467.6,952 M491.2,952 L501.2,952" fill="none" stroke="#f00" stroke-width="4.6"/>
<circle cx="449" cy="951.6" r="9" fill="#f00"/>
<text x="535.2" y="973" font-size="59" letter-spacing="1.66"><tspan>H(H</tspan><tspan dy="15.3" font-size="47.2">2</tspan><tspan dy="-15.3">)</tspan><tspan dy="15.3" font-size="47.2" font-style="italic">n</tspan><tspan dy="-15.3">TPL</tspan><tspan dy="-32.2" font-size="47.2">+</tspan></text>
<text x="387.4" y="1226.2" font-size="59" letter-spacing="-2.00"><tspan font-style="italic">n</tspan><tspan> = 0</tspan></text>
<text x="610" y="1152.5" text-anchor="middle" font-size="59"><tspan>2</tspan></text>
<text x="756.3" y="1155" text-anchor="middle" font-size="59"><tspan>4</tspan></text>
<text x="903.3" y="1251.4" text-anchor="middle" font-size="59"><tspan>6</tspan></text>
<text transform="translate(1130.8,1310.9) rotate(-90)" font-size="59" letter-spacing="-2.15"><tspan>H</tspan><tspan dy="15.3" font-size="47.2">3</tspan><tspan dy="-15.3">OTPL</tspan><tspan dy="-27.7" font-size="47.2">+</tspan></text>
<text transform="translate(1778.3,1376.9) rotate(-90)" font-size="59" letter-spacing="-1.81"><tspan>H</tspan><tspan dy="15.3" font-size="47.2">5</tspan><tspan dy="-15.3">O</tspan><tspan dy="15.3" font-size="47.2">2</tspan><tspan dy="-15.3">TPL</tspan><tspan dy="-27.7" font-size="47.2">+</tspan></text>
<g clip-path="url(#cc)">
<polyline points="246.3,2496 247.3,2496 248.3,2496 249.3,2496 250.3,2496 251.3,2496 252.3,2496 253.3,2496 254.3,2496 255.3,2496 256.3,2496 257.3,2496 258.3,2496 259.3,2496 260.3,2496 261.3,2495.9 262.3,2495.8 263.3,2495.6 264.3,2495.3 265.3,2494.6 266.3,2493.4 267.3,2491.5 268.3,2488.4 269.3,2483.7 270.3,2477 271.3,2467.8 272.3,2455.8 273.3,2441 274.3,2423.9 275.3,2405.3 276.3,2386.6 277.3,2369.5 278.3,2355.6 279.3,2346.5 280.3,2343.4 281.3,2346.5 282.3,2355.6 283.3,2369.5 284.3,2386.6 285.3,2405.3 286.3,2423.9 287.3,2441 288.3,2455.8 289.3,2467.8 290.3,2477 291.3,2483.7 292.3,2488.4 293.3,2491.5 294.3,2493.4 295.3,2494.6 296.3,2495.3 297.3,2495.6 298.3,2495.8 299.3,2495.9 300.3,2496 301.3,2496 302.3,2496 303.3,2496 304.3,2496 305.3,2496 306.3,2496 307.3,2496 308.3,2496 309.3,2496 310.3,2496 311.3,2496 312.3,2496 313.3,2496 314.3,2496 315.3,2496 316.3,2496 317.3,2496 318.3,2496 319.3,2496 320.3,2496 321.3,2496 322.3,2496 323.3,2496 324.3,2496 325.3,2496 326.3,2496 327.3,2496 328.3,2496 329.3,2496 330.3,2496 331.3,2496 332.3,2496 333.3,2496 334.3,2496 335.3,2496 336.3,2496 337.3,2496 338.3,2496 339.3,2496 340.3,2496 341.3,2496 342.3,2496 343.3,2496 344.3,2496 345.3,2496 346.3,2496 347.3,2496 348.3,2496 349.3,2496 350.3,2496 351.3,2496 352.3,2496 353.3,2496 354.3,2496 355.3,2496 356.3,2496 357.3,2496 358.3,2496 359.3,2496 360.3,2496 361.3,2496 362.3,2496 363.3,2496 364.3,2496 365.3,2496 366.3,2496 367.3,2496 368.3,2496 369.3,2496 370.3,2496 371.3,2496 372.3,2496 373.3,2496 374.3,2496 375.3,2496 376.3,2496 377.3,2496 378.3,2496 379.3,2496 380.3,2496 381.3,2496 382.3,2496 383.3,2496 384.3,2496 385.3,2496 386.3,2496 387.3,2496 388.3,2496 389.3,2496 390.3,2496 391.3,2496 392.3,2496 393.3,2496 394.3,2496 395.3,2496 396.3,2496 397.3,2496 398.3,2496 399.3,2496 400.3,2496 401.3,2496 402.3,2496 403.3,2496 404.3,2496 405.3,2496 406.3,2496 407.3,2496 408.3,2496 409.3,2496 410.3,2496 411.3,2496 412.3,2496 413.3,2496 414.3,2496 415.3,2496 416.3,2496 417.3,2496 418.3,2496 419.3,2496 420.3,2496 421.3,2496 422.3,2496 423.3,2496 424.3,2496 425.3,2496 426.3,2496 427.3,2496 428.3,2496 429.3,2496 430.3,2496 431.3,2496 432.3,2496 433.3,2496 434.3,2496 435.3,2496 436.3,2496 437.3,2496 438.3,2496 439.3,2496 440.3,2496 441.3,2496 442.3,2496 443.3,2495.9 444.3,2495.8 445.3,2495.7 446.3,2495.5 447.3,2495.2 448.3,2494.7 449.3,2494 450.3,2493 451.3,2491.7 452.3,2490.1 453.3,2488 454.3,2485.3 455.3,2482 456.3,2477.6 457.3,2471.7 458.3,2463.6 459.3,2452.2 460.3,2436.5 461.3,2415.4 462.3,2388.3 463.3,2355.1 464.3,2316.6 465.3,2275 466.3,2233.3 467.3,2195.4 468.3,2165.1 469.3,2146.2 470.3,2140.9 471.3,2150 472.3,2172.5 473.3,2205.8 474.3,2246.3 475.3,2289.9 476.3,2332.8 477.3,2372 478.3,2405.7 479.3,2432.9 480.3,2453.7 481.3,2468.8 482.3,2479.2 483.3,2486.1 484.3,2490.4 485.3,2492.9 486.3,2494.4 487.3,2495.2 488.3,2495.6 489.3,2495.8 490.3,2495.9 491.3,2496 492.3,2496 493.3,2496 494.3,2496 495.3,2496 496.3,2496 497.3,2496 498.3,2496 499.3,2496 500.3,2496 501.3,2496 502.3,2496 503.3,2496 504.3,2496 505.3,2496 506.3,2496 507.3,2496 508.3,2496 509.3,2496 510.3,2496 511.3,2496 512.3,2496 513.3,2496 514.3,2496 515.3,2496 516.3,2496 517.3,2496 518.3,2496 519.3,2496 520.3,2496 521.3,2496 522.3,2496 523.3,2496 524.3,2496 525.3,2496 526.3,2496 527.3,2496 528.3,2496 529.3,2496 530.3,2496 531.3,2496 532.3,2496 533.3,2496 534.3,2496 535.3,2496 536.3,2496 537.3,2496 538.3,2496 539.3,2496 540.3,2496 541.3,2496 542.3,2496 543.3,2496 544.3,2496 545.3,2496 546.3,2496 547.3,2496 548.3,2496 549.3,2496 550.3,2496 551.3,2496 552.3,2496 553.3,2496 554.3,2496 555.3,2496 556.3,2496 557.3,2496 558.3,2496 559.3,2496 560.3,2496 561.3,2496 562.3,2496 563.3,2496 564.3,2496 565.3,2496 566.3,2496 567.3,2496 568.3,2496 569.3,2496 570.3,2496 571.3,2496 572.3,2496 573.3,2496 574.3,2496 575.3,2496 576.3,2496 577.3,2496 578.3,2496 579.3,2496 580.3,2496 581.3,2496 582.3,2496 583.3,2496 584.3,2496 585.3,2496 586.3,2496 587.3,2496 588.3,2496 589.3,2496 590.3,2496 591.3,2496 592.3,2496 593.3,2496 594.3,2496 595.3,2496 596.3,2496 597.3,2496 598.3,2496 599.3,2496 600.3,2496 601.3,2496 602.3,2496 603.3,2496 604.3,2496 605.3,2496 606.3,2496 607.3,2496 608.3,2496 609.3,2496 610.3,2496 611.3,2496 612.3,2496 613.3,2496 614.3,2496 615.3,2496 616.3,2496 617.3,2496 618.3,2496 619.3,2496 620.3,2496 621.3,2496 622.3,2496 623.3,2496 624.3,2496 625.3,2495.9 626.3,2495.9 627.3,2495.8 628.3,2495.6 629.3,2495.4 630.3,2495 631.3,2494.4 632.3,2493.7 633.3,2492.8 634.3,2491.7 635.3,2490.4 636.3,2489.1 637.3,2487.7 638.3,2486.5 639.3,2485.6 640.3,2485 641.3,2484.9 642.3,2485.1 643.3,2485.6 644.3,2486.1 645.3,2486.5 646.3,2486.3 647.3,2485.2 648.3,2482.7 649.3,2478.4 650.3,2472 651.3,2463.4 652.3,2452.5 653.3,2439.7 654.3,2425.9 655.3,2411.9 656.3,2399.2 657.3,2389.1 658.3,2382.7 659.3,2380.8 660.3,2383.7 661.3,2390.9 662.3,2401.7 663.3,2414.8 664.3,2429 665.3,2442.9 666.3,2455.7 667.3,2466.6 668.3,2475.5 669.3,2482.2 670.3,2487.1 671.3,2490.5 672.3,2492.8 673.3,2494.2 674.3,2495 675.3,2495.5 676.3,2495.7 677.3,2495.9 678.3,2495.9 679.3,2496 680.3,2496 681.3,2496 682.3,2496 683.3,2496 684.3,2496 685.3,2496 686.3,2496 687.3,2496 688.3,2496 689.3,2496 690.3,2496 691.3,2496 692.3,2496 693.3,2496 694.3,2496 695.3,2496 696.3,2496 697.3,2496 698.3,2496 699.3,2496 700.3,2496 701.3,2496 702.3,2496 703.3,2496 704.3,2496 705.3,2496 706.3,2496 707.3,2496 708.3,2496 709.3,2496 710.3,2496 711.3,2496 712.3,2496 713.3,2496 714.3,2496 715.3,2496 716.3,2496 717.3,2496 718.3,2496 719.3,2496 720.3,2496 721.3,2496 722.3,2496 723.3,2496 724.3,2496 725.3,2496 726.3,2496 727.3,2496 728.3,2496 729.3,2496 730.3,2496 731.3,2496 732.3,2496 733.3,2496 734.3,2496 735.3,2496 736.3,2496 737.3,2496 738.3,2496 739.3,2496 740.3,2496 741.3,2496 742.3,2496 743.3,2496 744.3,2496 745.3,2496 746.3,2496 747.3,2496 748.3,2496 749.3,2496 750.3,2496 751.3,2496 752.3,2496 753.3,2496 754.3,2496 755.3,2496 756.3,2496 757.3,2496 758.3,2496 759.3,2496 760.3,2496 761.3,2496 762.3,2496 763.3,2496 764.3,2496 765.3,2496 766.3,2496 767.3,2496 768.3,2496 769.3,2496 770.3,2496 771.3,2496 772.3,2496 773.3,2496 774.3,2496 775.3,2496 776.3,2496 777.3,2496 778.3,2496 779.3,2496 780.3,2496 781.3,2496 782.3,2496 783.3,2496 784.3,2496 785.3,2496 786.3,2496 787.3,2496 788.3,2496 789.3,2496 790.3,2496 791.3,2496 792.3,2496 793.3,2496 794.3,2496 795.3,2496 796.3,2496 797.3,2496 798.3,2496 799.3,2496 800.3,2496 801.3,2496 802.3,2496 803.3,2496 804.3,2496 805.3,2496 806.3,2496 807.3,2496 808.3,2496 809.3,2496 810.3,2496 811.3,2496 812.3,2496 813.3,2496 814.3,2496 815.3,2495.9 816.3,2495.9 817.3,2495.8 818.3,2495.6 819.3,2495.2 820.3,2494.7 821.3,2494 822.3,2492.9 823.3,2491.5 824.3,2489.6 825.3,2487.4 826.3,2484.8 827.3,2482.1 828.3,2479.5 829.3,2477.1 830.3,2475.2 831.3,2474.1 832.3,2473.8 833.3,2474.3 834.3,2475.4 835.3,2476.6 836.3,2477.6 837.3,2477.5 838.3,2475.7 839.3,2471 840.3,2462.6 841.3,2449.5 842.3,2431 843.3,2406.8 844.3,2377.2 845.3,2343.5 846.3,2307.8 847.3,2272.9 848.3,2242.3 849.3,2219.1 850.3,2206.2 851.3,2205 852.3,2215.7 853.3,2237 854.3,2266.5 855.3,2300.9 856.3,2336.9 857.3,2371.6 858.3,2402.6 859.3,2428.8 860.3,2449.6 861.3,2465.3 862.3,2476.5 863.3,2484.1 864.3,2489.1 865.3,2492.1 866.3,2493.9 867.3,2494.9 868.3,2495.5 869.3,2495.7 870.3,2495.9 871.3,2495.9 872.3,2496 873.3,2496 874.3,2496 875.3,2496 876.3,2496 877.3,2496 878.3,2496 879.3,2496 880.3,2496 881.3,2496 882.3,2496 883.3,2496 884.3,2496 885.3,2496 886.3,2496 887.3,2496 888.3,2496 889.3,2496 890.3,2496 891.3,2496 892.3,2496 893.3,2496 894.3,2496 895.3,2496 896.3,2496 897.3,2496 898.3,2496 899.3,2496 900.3,2496 901.3,2496 902.3,2496 903.3,2496 904.3,2496 905.3,2496 906.3,2496 907.3,2496 908.3,2496 909.3,2496 910.3,2496 911.3,2496 912.3,2496 913.3,2496 914.3,2496 915.3,2496 916.3,2496 917.3,2496 918.3,2496 919.3,2496 920.3,2496 921.3,2496 922.3,2496 923.3,2496 924.3,2496 925.3,2496 926.3,2496 927.3,2496 928.3,2496 929.3,2496 930.3,2496 931.3,2496 932.3,2496 933.3,2496 934.3,2496 935.3,2496 936.3,2496 937.3,2496 938.3,2496 939.3,2496 940.3,2496 941.3,2496 942.3,2496 943.3,2496 944.3,2496 945.3,2496 946.3,2496 947.3,2496 948.3,2496 949.3,2496 950.3,2496 951.3,2496 952.3,2496 953.3,2496 954.3,2496 955.3,2496 956.3,2496 957.3,2496 958.3,2496 959.3,2496 960.3,2496 961.3,2496 962.3,2496 963.3,2496 964.3,2496 965.3,2496 966.3,2496 967.3,2496 968.3,2496 969.3,2496 970.3,2496 971.3,2496 972.3,2496 973.3,2496 974.3,2496 975.3,2496 976.3,2496 977.3,2496 978.3,2496 979.3,2496 980.3,2496 981.3,2496 982.3,2496 983.3,2496 984.3,2496 985.3,2496 986.3,2496 987.3,2496 988.3,2496 989.3,2496 990.3,2496 991.3,2496 992.3,2496 993.3,2496 994.3,2496 995.3,2496 996.3,2496 997.3,2495.9 998.3,2495.8 999.3,2495.6 1000.3,2495.2 1001.3,2494.4 1002.3,2493.2 1003.3,2491.2 1004.3,2488.1 1005.3,2483.4 1006.3,2476.8 1007.3,2468 1008.3,2456.8 1009.3,2443.3 1010.3,2428 1011.3,2411.9 1012.3,2396.1 1013.3,2382.3 1014.3,2371.7 1015.3,2365.8 1016.3,2365 1017.3,2369.6 1018.3,2379 1019.3,2392.1 1020.3,2407.5 1021.3,2423.6 1022.3,2439.1 1023.3,2452.9 1024.3,2464.4 1025.3,2473.1 1026.3,2479 1027.3,2482.3 1028.3,2482.9 1029.3,2481 1030.3,2476.7 1031.3,2470.3 1032.3,2461.8 1033.3,2451.8 1034.3,2440.8 1035.3,2429.8 1036.3,2419.8 1037.3,2411.8 1038.3,2406.7 1039.3,2405.2 1040.3,2407.5 1041.3,2413.2 1042.3,2421.7 1043.3,2432 1044.3,2443.2 1045.3,2454.2 1046.3,2464.2 1047.3,2472.8 1048.3,2479.8 1049.3,2485.1 1050.3,2489 1051.3,2491.7 1052.3,2493.5 1053.3,2494.6 1054.3,2495.2 1055.3,2495.6 1056.3,2495.8 1057.3,2495.9 1058.3,2496 1059.3,2496 1060.3,2496 1061.3,2496 1062.3,2496 1063.3,2496 1064.3,2496 1065.3,2496 1066.3,2496 1067.3,2496 1068.3,2496 1069.3,2496 1070.3,2496 1071.3,2496 1072.3,2496 1073.3,2496 1074.3,2496 1075.3,2496 1076.3,2496 1077.3,2496 1078.3,2496 1079.3,2496 1080.3,2496 1081.3,2496 1082.3,2496 1083.3,2496 1084.3,2496 1085.3,2496 1086.3,2496 1087.3,2496 1088.3,2496 1089.3,2496 1090.3,2496 1091.3,2496 1092.3,2496 1093.3,2496 1094.3,2496 1095.3,2496 1096.3,2496 1097.3,2496 1098.3,2496 1099.3,2496 1100.3,2496 1101.3,2496 1102.3,2496 1103.3,2496 1104.3,2496 1105.3,2496 1106.3,2496 1107.3,2496 1108.3,2496 1109.3,2496 1110.3,2496 1111.3,2496 1112.3,2496 1113.3,2496 1114.3,2496 1115.3,2496 1116.3,2496 1117.3,2496 1118.3,2496 1119.3,2496 1120.3,2496 1121.3,2496 1122.3,2496 1123.3,2496 1124.3,2496 1125.3,2496 1126.3,2496 1127.3,2496 1128.3,2496 1129.3,2496 1130.3,2496 1131.3,2496 1132.3,2496 1133.3,2496 1134.3,2496 1135.3,2496 1136.3,2496 1137.3,2496 1138.3,2496 1139.3,2496 1140.3,2496 1141.3,2496 1142.3,2496 1143.3,2496 1144.3,2496 1145.3,2496 1146.3,2496 1147.3,2496 1148.3,2496 1149.3,2496 1150.3,2496 1151.3,2496 1152.3,2496 1153.3,2496 1154.3,2496 1155.3,2496 1156.3,2496 1157.3,2496 1158.3,2496 1159.3,2496 1160.3,2496 1161.3,2496 1162.3,2496 1163.3,2496 1164.3,2496 1165.3,2496 1166.3,2496 1167.3,2496 1168.3,2496 1169.3,2496 1170.3,2496 1171.3,2496 1172.3,2496 1173.3,2496 1174.3,2496 1175.3,2496 1176.3,2495.9 1177.3,2495.9 1178.3,2495.7 1179.3,2495.5 1180.3,2495.2 1181.3,2494.8 1182.3,2494.2 1183.3,2493.3 1184.3,2492.2 1185.3,2490.8 1186.3,2489.1 1187.3,2487.3 1188.3,2485.1 1189.3,2482.7 1190.3,2479.7 1191.3,2475.7 1192.3,2470 1193.3,2461.6 1194.3,2449.2 1195.3,2431.5 1196.3,2407.1 1197.3,2375.1 1198.3,2335.6 1199.3,2289.8 1200.3,2240 1201.3,2190.1 1202.3,2144.6 1203.3,2108.3 1204.3,2085.4 1205.3,2078.7 1206.3,2088.9 1207.3,2115 1208.3,2153.7 1209.3,2200.6 1210.3,2251 1211.3,2300.2 1212.3,2344.8 1213.3,2382.4 1214.3,2411.8 1215.3,2433.1 1216.3,2446.9 1217.3,2454.2 1218.3,2456 1219.3,2452.9 1220.3,2445.4 1221.3,2433.7 1222.3,2417.9 1223.3,2398.4 1224.3,2376 1225.3,2352.1 1226.3,2328.5 1227.3,2307.6 1228.3,2291.6 1229.3,2282.6 1230.3,2281.7 1231.3,2289.4 1232.3,2304.7 1233.3,2326 1234.3,2351 1235.3,2377.3 1236.3,2402.8 1237.3,2425.8 1238.3,2445.3 1239.3,2460.9 1240.3,2472.6 1241.3,2481.1 1242.3,2486.9 1243.3,2490.7 1244.3,2493 1245.3,2494.4 1246.3,2495.2 1247.3,2495.6 1248.3,2495.8 1249.3,2495.9 1250.3,2496 1251.3,2496 1252.3,2496 1253.3,2496 1254.3,2496 1255.3,2496 1256.3,2496 1257.3,2496 1258.3,2496 1259.3,2496 1260.3,2496 1261.3,2496 1262.3,2496 1263.3,2496 1264.3,2496 1265.3,2496 1266.3,2496 1267.3,2496 1268.3,2496 1269.3,2496 1270.3,2496 1271.3,2496 1272.3,2496 1273.3,2496 1274.3,2496 1275.3,2496 1276.3,2496 1277.3,2496 1278.3,2496 1279.3,2496 1280.3,2496 1281.3,2496 1282.3,2496 1283.3,2496 1284.3,2496 1285.3,2496 1286.3,2496 1287.3,2496 1288.3,2496 1289.3,2496 1290.3,2496 1291.3,2496 1292.3,2496 1293.3,2496 1294.3,2496 1295.3,2496 1296.3,2496 1297.3,2496 1298.3,2496 1299.3,2496 1300.3,2496 1301.3,2496 1302.3,2496 1303.3,2496 1304.3,2496 1305.3,2496 1306.3,2496 1307.3,2496 1308.3,2496 1309.3,2496 1310.3,2496 1311.3,2496 1312.3,2496 1313.3,2496 1314.3,2496 1315.3,2496 1316.3,2496 1317.3,2496 1318.3,2496 1319.3,2496 1320.3,2496 1321.3,2496 1322.3,2496 1323.3,2496 1324.3,2496 1325.3,2496 1326.3,2496 1327.3,2496 1328.3,2496 1329.3,2496 1330.3,2496 1331.3,2496 1332.3,2496 1333.3,2496 1334.3,2496 1335.3,2496 1336.3,2496 1337.3,2496 1338.3,2496 1339.3,2496 1340.3,2496 1341.3,2496 1342.3,2496 1343.3,2496 1344.3,2496 1345.3,2496 1346.3,2496 1347.3,2496 1348.3,2496 1349.3,2496 1350.3,2496 1351.3,2496 1352.3,2496 1353.3,2496 1354.3,2496 1355.3,2496 1356.3,2496 1357.3,2496 1358.3,2496 1359.3,2496 1360.3,2496 1361.3,2496 1362.3,2496 1363.3,2496 1364.3,2496 1365.3,2496 1366.3,2496 1367.3,2496 1368.3,2496 1369.3,2496 1370.3,2496 1371.3,2496 1372.3,2496 1373.3,2496 1374.3,2496 1375.3,2495.9 1376.3,2495.9 1377.3,2495.7 1378.3,2495.5 1379.3,2495 1380.3,2494.1 1381.3,2492.5 1382.3,2490 1383.3,2486.2 1384.3,2480.5 1385.3,2472.5 1386.3,2461.8 1387.3,2448.3 1388.3,2432.3 1389.3,2414.3 1390.3,2395.4 1391.3,2377.3 1392.3,2361.6 1393.3,2350 1394.3,2343.9 1395.3,2343.9 1396.3,2350 1397.3,2361.4 1398.3,2376.8 1399.3,2394.4 1400.3,2412.4 1401.3,2429.4 1402.3,2444.3 1403.3,2456.4 1404.3,2465.6 1405.3,2472.2 1406.3,2476.4 1407.3,2478.6 1408.3,2479.2 1409.3,2478.4 1410.3,2476.2 1411.3,2472.5 1412.3,2467.4 1413.3,2460.9 1414.3,2453.2 1415.3,2444.8 1416.3,2436.4 1417.3,2428.9 1418.3,2423.1 1419.3,2419.7 1420.3,2419.4 1421.3,2422 1422.3,2427.4 1423.3,2435 1424.3,2444 1425.3,2453.4 1426.3,2462.6 1427.3,2470.8 1428.3,2477.8 1429.3,2483.4 1430.3,2487.6 1431.3,2490.7 1432.3,2492.7 1433.3,2494.1 1434.3,2494.9 1435.3,2495.4 1436.3,2495.7 1437.3,2495.8 1438.3,2495.9 1439.3,2496 1440.3,2496 1441.3,2496 1442.3,2496 1443.3,2496 1444.3,2496 1445.3,2496 1446.3,2496 1447.3,2496 1448.3,2496 1449.3,2496 1450.3,2496 1451.3,2496 1452.3,2496 1453.3,2496 1454.3,2496 1455.3,2496 1456.3,2496 1457.3,2496 1458.3,2496 1459.3,2496 1460.3,2496 1461.3,2496 1462.3,2496 1463.3,2496 1464.3,2496 1465.3,2496 1466.3,2496 1467.3,2496 1468.3,2496 1469.3,2496 1470.3,2496 1471.3,2496 1472.3,2496 1473.3,2496 1474.3,2496 1475.3,2496 1476.3,2496 1477.3,2496 1478.3,2496 1479.3,2496 1480.3,2496 1481.3,2496 1482.3,2496 1483.3,2496 1484.3,2496 1485.3,2496 1486.3,2496 1487.3,2496 1488.3,2496 1489.3,2496 1490.3,2496 1491.3,2496 1492.3,2496 1493.3,2496 1494.3,2496 1495.3,2496 1496.3,2496 1497.3,2496 1498.3,2496 1499.3,2496 1500.3,2496 1501.3,2496 1502.3,2496 1503.3,2496 1504.3,2496 1505.3,2496 1506.3,2496 1507.3,2496 1508.3,2496 1509.3,2496 1510.3,2496 1511.3,2496 1512.3,2496 1513.3,2496 1514.3,2496 1515.3,2496 1516.3,2496 1517.3,2496 1518.3,2496 1519.3,2496 1520.3,2496 1521.3,2496 1522.3,2496 1523.3,2496 1524.3,2496 1525.3,2496 1526.3,2496 1527.3,2496 1528.3,2496 1529.3,2496 1530.3,2496 1531.3,2496 1532.3,2496 1533.3,2496 1534.3,2496 1535.3,2496 1536.3,2496 1537.3,2496 1538.3,2496 1539.3,2496 1540.3,2496 1541.3,2496 1542.3,2496 1543.3,2496 1544.3,2496 1545.3,2496 1546.3,2496 1547.3,2496 1548.3,2496 1549.3,2496 1550.3,2496 1551.3,2496 1552.3,2496 1553.3,2496 1554.3,2496 1555.3,2496 1556.3,2496 1557.3,2496 1558.3,2496 1559.3,2496 1560.3,2496 1561.3,2496 1562.3,2496 1563.3,2496 1564.3,2496 1565.3,2496 1566.3,2495.9 1567.3,2495.8 1568.3,2495.7 1569.3,2495.3 1570.3,2494.7 1571.3,2493.5 1572.3,2491.5 1573.3,2488.2 1574.3,2483 1575.3,2475.3 1576.3,2464.4 1577.3,2449.6 1578.3,2430.7 1579.3,2407.9 1580.3,2382 1581.3,2354.4 1582.3,2327.3 1583.3,2303.3 1584.3,2284.8 1585.3,2274 1586.3,2272.1 1587.3,2279.4 1588.3,2295.1 1589.3,2317.2 1590.3,2343.3 1591.3,2370.8 1592.3,2397.3 1593.3,2421 1594.3,2440.5 1595.3,2455.3 1596.3,2465 1597.3,2469.9 1598.3,2469.9 1599.3,2465.4 1600.3,2456.4 1601.3,2443.5 1602.3,2427.2 1603.3,2408.3 1604.3,2388.3 1605.3,2369 1606.3,2352.1 1607.3,2339.7 1608.3,2333 1609.3,2333 1610.3,2339.7 1611.3,2352.2 1612.3,2369.1 1613.3,2388.6 1614.3,2408.8 1615.3,2428 1616.3,2445.2 1617.3,2459.6 1618.3,2471 1619.3,2479.5 1620.3,2485.6 1621.3,2489.7 1622.3,2492.3 1623.3,2493.9 1624.3,2494.9 1625.3,2495.4 1626.3,2495.7 1627.3,2495.9 1628.3,2495.9 1629.3,2496 1630.3,2496 1631.3,2496 1632.3,2496 1633.3,2496 1634.3,2496 1635.3,2496 1636.3,2496 1637.3,2496 1638.3,2496 1639.3,2496 1640.3,2496 1641.3,2496 1642.3,2496 1643.3,2496 1644.3,2496 1645.3,2496 1646.3,2496 1647.3,2496 1648.3,2496 1649.3,2496 1650.3,2496 1651.3,2496 1652.3,2496 1653.3,2496 1654.3,2496 1655.3,2496 1656.3,2496 1657.3,2496 1658.3,2496 1659.3,2496 1660.3,2496 1661.3,2496 1662.3,2496 1663.3,2496 1664.3,2496 1665.3,2496 1666.3,2496 1667.3,2496 1668.3,2496 1669.3,2496 1670.3,2496 1671.3,2496 1672.3,2496 1673.3,2496 1674.3,2496 1675.3,2496 1676.3,2496 1677.3,2496 1678.3,2496 1679.3,2496 1680.3,2496 1681.3,2496 1682.3,2496 1683.3,2496 1684.3,2496 1685.3,2496 1686.3,2496 1687.3,2496 1688.3,2496 1689.3,2496 1690.3,2496 1691.3,2496 1692.3,2496 1693.3,2496 1694.3,2496 1695.3,2496 1696.3,2496 1697.3,2496 1698.3,2496 1699.3,2496 1700.3,2496 1701.3,2496 1702.3,2496 1703.3,2496 1704.3,2496 1705.3,2496 1706.3,2496 1707.3,2496 1708.3,2496 1709.3,2496 1710.3,2496 1711.3,2496 1712.3,2496 1713.3,2496 1714.3,2496 1715.3,2496 1716.3,2496 1717.3,2496 1718.3,2496 1719.3,2496 1720.3,2496 1721.3,2496 1722.3,2496 1723.3,2496 1724.3,2496 1725.3,2496 1726.3,2496 1727.3,2496 1728.3,2496 1729.3,2496 1730.3,2496 1731.3,2496 1732.3,2496 1733.3,2496 1734.3,2496 1735.3,2496 1736.3,2496 1737.3,2496 1738.3,2496 1739.3,2496 1740.3,2496 1741.3,2496 1742.3,2496 1743.3,2496 1744.3,2496 1745.3,2496 1746.3,2496 1747.3,2496 1748.3,2496 1749.3,2496 1750.3,2496 1751.3,2496 1752.3,2496 1753.3,2496 1754.3,2496 1755.3,2496 1756.3,2495.9 1757.3,2495.9 1758.3,2495.7 1759.3,2495.4 1760.3,2494.9 1761.3,2494 1762.3,2492.5 1763.3,2490.1 1764.3,2486.4 1765.3,2481.3 1766.3,2474.2 1767.3,2465.1 1768.3,2453.9 1769.3,2441.1 1770.3,2427.2 1771.3,2413.4 1772.3,2400.8 1773.3,2390.8 1774.3,2384.5 1775.3,2382.6 1776.3,2385.4 1777.3,2392.5 1778.3,2403.2 1779.3,2416.1 1780.3,2430 1781.3,2443.6 1782.3,2456.1 1783.3,2466.6 1784.3,2474.9 1785.3,2480.9 1786.3,2484.7 1787.3,2486.4 1788.3,2486.2 1789.3,2484.2 1790.3,2480.5 1791.3,2475.3 1792.3,2468.9 1793.3,2461.6 1794.3,2453.8 1795.3,2446.5 1796.3,2440.1 1797.3,2435.5 1798.3,2433.2 1799.3,2433.5 1800.3,2436.3 1801.3,2441.3 1802.3,2447.9 1803.3,2455.5 1804.3,2463.2 1805.3,2470.6 1806.3,2477.1 1807.3,2482.5 1808.3,2486.8 1809.3,2489.9 1810.3,2492.2 1811.3,2493.7 1812.3,2494.7 1813.3,2495.3 1814.3,2495.6 1815.3,2495.8 1816.3,2495.9 1817.3,2496 1818.3,2496 1819.3,2496 1820.3,2496 1821.3,2496 1822.3,2496 1823.3,2496 1824.3,2496 1825.3,2496 1826.3,2496 1827.3,2496 1828.3,2496 1829.3,2496 1830.3,2496 1831.3,2496 1832.3,2496 1833.3,2496 1834.3,2496 1835.3,2496 1836.3,2496 1837.3,2496 1838.3,2496 1839.3,2496 1840.3,2496 1841.3,2496 1842.3,2496 1843.3,2496 1844.3,2496 1845.3,2496 1846.3,2496 1847.3,2496 1848.3,2496 1849.3,2496 1850.3,2496 1851.3,2496 1852.3,2496 1853.3,2496 1854.3,2496 1855.3,2496 1856.3,2496 1857.3,2496" fill="none" stroke="#111" stroke-width="2.0" stroke-linejoin="round"/>
<path d="M101.4,2028.5 L109.5,2030.9 M133.5,2037.9 L141.7,2040.3 M165.7,2047.3 L173.8,2049.6 M197.8,2056.6 L206,2059 M230,2066 L238.2,2068.4 M262.2,2075.4 L270.3,2077.8 M294.3,2084.8 L302.5,2087.2 M326.5,2094.2 L334.6,2096.6 M358.6,2103.6 L366.8,2105.9 M390.8,2112.9 L399,2115.3 M423,2122.3 L431.1,2124.7 M484.7,2138.4 L493.1,2139.8 M517.7,2143.7 L526.1,2145.1 M550.8,2149 L559.2,2150.4 M583.9,2154.3 L592.3,2155.7 M617,2159.6 L625.4,2161 M650.1,2164.9 L658.4,2166.3 M683.1,2170.2 L691.5,2171.6 M716.2,2175.5 L724.6,2176.9 M749.3,2180.8 L757.7,2182.2 M782.4,2186.1 L790.8,2187.5 M815.4,2191.4 L823.8,2192.8 M864.6,2199.7 L872.9,2201.3 M897.5,2205.9 L905.9,2207.5 M930.4,2212.2 L938.8,2213.7 M963.3,2218.4 L971.7,2220 M996.3,2224.6 L1004.6,2226.2 M1029.2,2230.8 L1037.5,2232.4 M1062.1,2237.1 L1070.4,2238.6 M1095,2243.3 L1103.4,2244.9 M1127.9,2249.5 L1136.3,2251.1 M1160.8,2255.7 L1169.2,2257.3 M1193.8,2261.9 L1202.1,2263.5 M1244.5,2271.1 L1252.9,2272.5 M1277.5,2276.5 L1285.9,2277.9 M1310.6,2281.9 L1319,2283.2 M1343.7,2287.2 L1352.1,2288.6 M1376.7,2292.6 L1385.1,2293.9 M1409.8,2297.9 L1418.2,2299.3 M1442.9,2303.3 L1451.3,2304.7 M1475.9,2308.7 L1484.3,2310 M1509,2314 L1517.4,2315.4 M1542.1,2319.4 L1550.5,2320.7 M1575.1,2324.7 L1583.5,2326.1 M1623.4,2331.4 L1631.9,2332.1 M1656.8,2334.2 L1665.3,2335 M1690.2,2337 L1698.6,2337.8 M1723.5,2339.9 L1732,2340.6 M1756.9,2342.7 L1765.4,2343.4 M1790.3,2345.5 L1798.8,2346.2 M1823.7,2348.3 L1832.2,2349 M1857.1,2351.1 L1865.5,2351.8 M1890.5,2353.9 L1898.9,2354.6 M1923.8,2356.7 L1932.3,2357.4 M1957.2,2359.5 L1965.7,2360.2" fill="none" stroke="#f00" stroke-width="4.4"/>
<polyline points="-99.6,2318 279.8,2337.7 659.2,2372.6 1039.2,2394.5 1419,2414.2 1798.7,2431 2183,2440" fill="none" stroke="#00f" stroke-width="2.6"/>
</g>
<circle cx="470.2" cy="2136.1" r="8" fill="#f00"/>
<circle cx="850.2" cy="2197" r="8" fill="#f00"/>
<circle cx="1230" cy="2268.8" r="8" fill="#f00"/>
<circle cx="1608.8" cy="2330.2" r="8" fill="#f00"/>
<circle cx="279.8" cy="2337.7" r="8" fill="#00f"/>
<circle cx="659.2" cy="2372.6" r="8" fill="#00f"/>
<circle cx="1039.2" cy="2394.5" r="8" fill="#00f"/>
<circle cx="1419" cy="2414.2" r="8" fill="#00f"/>
<circle cx="1798.7" cy="2431" r="8" fill="#00f"/>
<path d="M241.3,1774 L241.3,2499 Q241.3,2499 241.3,2499 L1862.5,2499 Q1862.5,2499 1862.5,2499 L1862.5,1774" fill="none" stroke="#000" stroke-width="9.5" stroke-linejoin="miter" stroke-linecap="square"/>
<line x1="241.3" y1="2499" x2="241.3" y2="2528.7" stroke="#000" stroke-width="9.5" stroke-linecap="round"/>
<line x1="241.3" y1="2256.8" x2="271.8" y2="2256.8" stroke="#000" stroke-width="8.5" stroke-linecap="round"/>
<line x1="241.3" y1="2014.6" x2="271.8" y2="2014.6" stroke="#000" stroke-width="8.5" stroke-linecap="round"/>
<line x1="241.3" y1="2377.9" x2="256.8" y2="2377.9" stroke="#000" stroke-width="8.5" stroke-linecap="round"/>
<line x1="241.3" y1="2135.7" x2="256.8" y2="2135.7" stroke="#000" stroke-width="8.5" stroke-linecap="round"/>
<line x1="241.3" y1="1893.5" x2="256.8" y2="1893.5" stroke="#000" stroke-width="8.5" stroke-linecap="round"/>
<line x1="617.2" y1="2499" x2="617.2" y2="2533" stroke="#000" stroke-width="8" stroke-linecap="butt"/>
<line x1="994.4" y1="2499" x2="994.4" y2="2533" stroke="#000" stroke-width="8" stroke-linecap="butt"/>
<line x1="1371.6" y1="2499" x2="1371.6" y2="2533" stroke="#000" stroke-width="8" stroke-linecap="butt"/>
<line x1="1748.8" y1="2499" x2="1748.8" y2="2533" stroke="#000" stroke-width="8" stroke-linecap="butt"/>
<line x1="428.6" y1="2499" x2="428.6" y2="2518.5" stroke="#000" stroke-width="8" stroke-linecap="butt"/>
<line x1="805.8" y1="2499" x2="805.8" y2="2518.5" stroke="#000" stroke-width="8" stroke-linecap="butt"/>
<line x1="1183" y1="2499" x2="1183" y2="2518.5" stroke="#000" stroke-width="8" stroke-linecap="butt"/>
<line x1="1560.2" y1="2499" x2="1560.2" y2="2518.5" stroke="#000" stroke-width="8" stroke-linecap="butt"/>
<text x="240.2" y="2592" text-anchor="middle" font-size="59" letter-spacing="-1.20"><tspan>242</tspan></text>
<text x="617.4" y="2592" text-anchor="middle" font-size="59" letter-spacing="-1.20"><tspan>244</tspan></text>
<text x="994.6" y="2592" text-anchor="middle" font-size="59" letter-spacing="-1.20"><tspan>246</tspan></text>
<text x="1371.8" y="2592" text-anchor="middle" font-size="59" letter-spacing="-1.20"><tspan>248</tspan></text>
<text x="1749" y="2592" text-anchor="middle" font-size="59" letter-spacing="-1.20"><tspan>250</tspan></text>
<text transform="translate(195.5,2495.5) rotate(-90)" text-anchor="middle" font-size="59"><tspan>0</tspan></text>
<text transform="translate(195.5,2253.3) rotate(-90)" text-anchor="middle" font-size="59" letter-spacing="-1.00"><tspan>5,000</tspan></text>
<text transform="translate(195.5,2011.1) rotate(-90)" text-anchor="middle" font-size="59" letter-spacing="-1.30"><tspan>10,000</tspan></text>
<text transform="translate(69.2,2314.5) rotate(-90)" font-size="59" letter-spacing="1.19"><tspan>Ion yield (counts)</tspan></text>
<text x="309.7" y="1835" font-size="59"><tspan>c)</tspan></text>
<path d="M400,1827 L409,1827 M432.5,1827 L441.6,1827 M455,1827 L470,1827 M474,1827 L481,1827 M503,1827 L513.7,1827" fill="none" stroke="#f00" stroke-width="4.4"/>
<circle cx="462.1" cy="1826" r="8" fill="#f00"/>
<text x="541.4" y="1844.5" font-size="59" letter-spacing="-1.21"><tspan>H(H</tspan><tspan dy="15.3" font-size="47.2">2</tspan><tspan dy="-15.3">)</tspan><tspan dy="15.3" font-size="47.2" font-style="italic">n</tspan><tspan dy="-15.3">TPL</tspan><tspan dy="-27.7" font-size="47.2">+</tspan></text>
<line x1="400" y1="1928.8" x2="526.4" y2="1928.8" stroke="#00f" stroke-width="2.8"/>
<circle cx="462.1" cy="1928.8" r="8" fill="#00f"/>
<text x="542.4" y="1947.2" font-size="59" letter-spacing="-1.26"><tspan>(H</tspan><tspan dy="15.3" font-size="47.2">2</tspan><tspan dy="-15.3">)</tspan><tspan dy="15.3" font-size="47.2" font-style="italic">n</tspan><tspan dy="-15.3">TPL</tspan><tspan dy="-27.7" font-size="47.2">+</tspan></text>
<text transform="translate(1031.1,2175.2) rotate(-90)" font-size="59" letter-spacing="-1.83"><tspan>H</tspan><tspan dy="15.3" font-size="47.2">2</tspan><tspan dy="-15.3">OTPL</tspan><tspan dy="-27.7" font-size="47.2">+</tspan></text>
<text transform="translate(1225.2,2065.2) rotate(-90)" font-size="59" letter-spacing="-1.42"><tspan>H</tspan><tspan dy="15.3" font-size="47.2">3</tspan><tspan dy="-15.3">OTPL</tspan><tspan dy="-27.7" font-size="47.2">+</tspan></text>
<text transform="translate(1414.9,2175.2) rotate(-90)" font-size="59" letter-spacing="-1.60"><tspan>H</tspan><tspan dy="15.3" font-size="47.2">2</tspan><tspan dy="-15.3">OH</tspan><tspan dy="15.3" font-size="47.2">2</tspan><tspan dy="-15.3">TPL</tspan><tspan dy="-27.7" font-size="47.2">+</tspan></text>
<text transform="translate(1603.1,2172.2) rotate(-90)" font-size="59" letter-spacing="-1.79"><tspan>H</tspan><tspan dy="15.3" font-size="47.2">3</tspan><tspan dy="-15.3">OH</tspan><tspan dy="15.3" font-size="47.2">2</tspan><tspan dy="-15.3">TPL</tspan><tspan dy="-27.7" font-size="47.2">+</tspan></text>
<text transform="translate(1791.3,2171.2) rotate(-90)" font-size="59" letter-spacing="-1.37"><tspan>H</tspan><tspan dy="15.3" font-size="47.2">2</tspan><tspan dy="-15.3">O(H</tspan><tspan dy="15.3" font-size="47.2">2</tspan><tspan dy="-15.3">)</tspan><tspan dy="15.3" font-size="47.2">2</tspan><tspan dy="-15.3">TPL</tspan><tspan dy="-27.7" font-size="47.2">+</tspan></text>
<line x1="1015.3" y1="2190.4" x2="1015.3" y2="2311.4" stroke="#000" stroke-width="5"/>
<path d="M1004.6,2307.4 L1027.6,2307.4 L1019.6,2338.5 L1012.6,2338.5 Z" fill="#000"/>
<line x1="1393.8" y1="2190.7" x2="1393.8" y2="2293.9" stroke="#000" stroke-width="5"/>
<path d="M1383.1,2289.9 L1406.1,2289.9 L1398.1,2320.1 L1391.1,2320.1 Z" fill="#000"/>
<line x1="1585.3" y1="2190.7" x2="1585.3" y2="2219.9" stroke="#000" stroke-width="5"/>
<path d="M1574.6,2215.9 L1597.6,2215.9 L1589.6,2249.5 L1582.6,2249.5 Z" fill="#000"/>
<line x1="1774.5" y1="2190.7" x2="1774.5" y2="2339.2" stroke="#000" stroke-width="5"/>
<path d="M1763.8,2335.2 L1786.8,2335.2 L1778.8,2365.5 L1771.8,2365.5 Z" fill="#000"/>
<text x="1387.5" y="2658" font-size="59" letter-spacing="1.60"><tspan>Mass (u)</tspan></text>
</g>
</svg>
</body></html>
